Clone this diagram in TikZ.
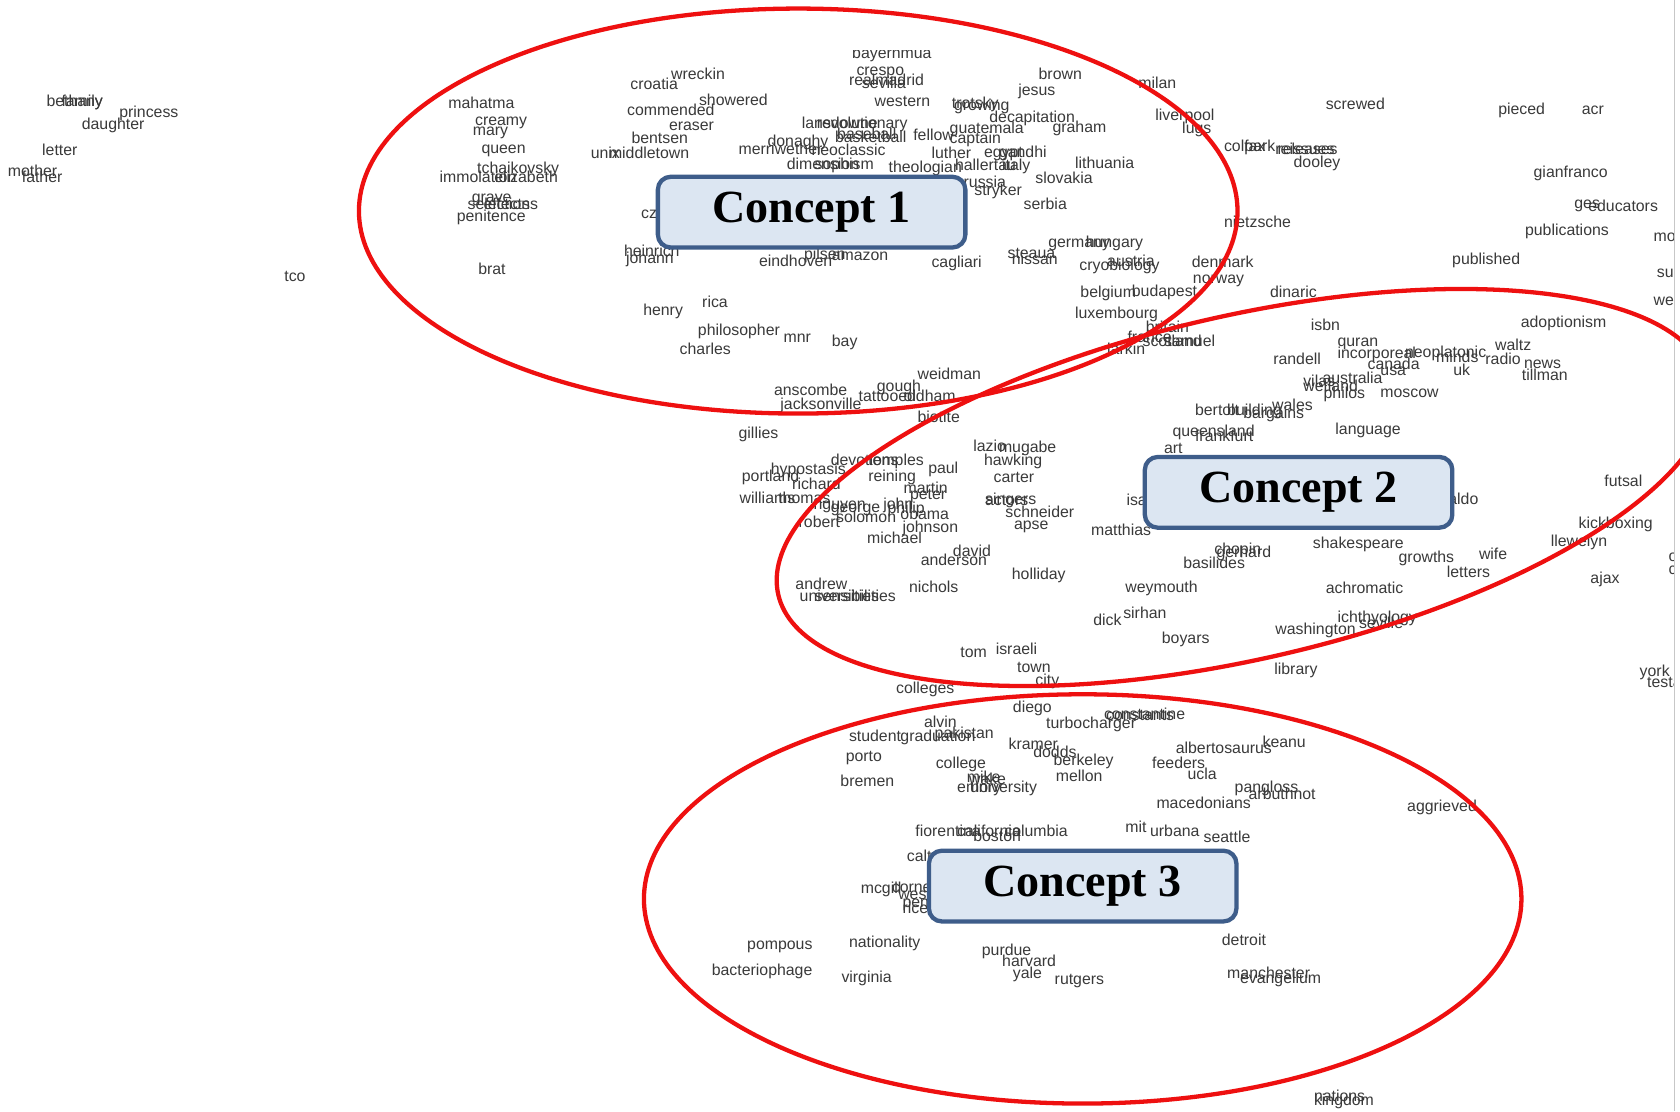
\documentclass[tikz,border=0pt]{standalone}
\usepackage{fontspec}
\setmainfont{Liberation Sans}
\newfontfamily\conceptfont{Liberation Serif}
\definecolor{wordc}{RGB}{58,58,58}
\definecolor{ringred}{RGB}{238,16,16}
\definecolor{boxfill}{RGB}{220,230,242}
\definecolor{boxline}{RGB}{62,93,138}
\tikzset{
  wd/.style={anchor=base west, inner sep=0pt, yshift=-1.8pt, text=wordc, font=\fontsize{7.4}{8}\selectfont},
  ring/.style={draw=ringred, line width=2pt},
  conceptbox/.style={draw=boxline, line width=2pt, fill=boxfill, rounded corners=6pt,
    minimum width=143.5pt, minimum height=33pt, inner sep=0pt,
    font=\conceptfont\bfseries\fontsize{21.5}{24}\selectfont}
}
\begin{document}
\begin{tikzpicture}[x=0.5pt,y=-0.5pt]
\useasboundingbox (0,0) rectangle (1568,1037);
\fill[white] (0,0) rectangle (1568,1037);
\begin{scope}
\clip (0,47.5) rectangle (1562,1037);
\foreach \x/\y/\t [count=\i] in {
43/96/bethany, 57/96/family, 111/106/princess, 76/117/daughter, 39/142/letter, 7/161/mother, 20/167/father, 265/259/tco,
418/98/mahatma, 443/114/creamy, 441/123/mary, 449/140/queen, 445/158/tchaikovsky, 410/167/immolation, 461/167/elizabeth,
440/185/grave, 436/192/selections, 451/192/effects, 426/203/penitence, 446/253/brat,
588/80/croatia, 626/71/wreckin, 652/95/showered, 585/104/commended, 624/118/eraser, 589/130/bentsen, 551/144/unix, 568/144/middletown,
598/200/czech, 582/236/heinrich, 584/242/johann, 708/245/eindhoven, 750/239/pilsen, 776/240/amazon, 869/246/cagliari,
940/238/steaua, 944/243/nissan, 978/227/germany, 1013/227/hungary, 1007/249/cryobiology, 1033/245/austria,
1112/246/denmark, 1113/261/norway, 1008/274/belgium, 1056/273/budapest, 1185/274/dinaric, 1003/294/luxembourg,
1069/307/britain, 1052/316/france, 1066/320/scotland, 1086/320/samuel, 1033/327/larkin,
1142/209/nietzsche, 1142/138/colfax, 1161/138/park, 1190/141/reissues, 1192/141/releases, 1207/153/dooley, 1237/99/screwed,
1062/79/milan, 1078/109/liverpool, 1103/121/lugs, 969/71/brown, 950/86/jesus,
795/51/bayernmua, 799/67/crespo, 792/76/realmadrid, 804/79/sevilla, 816/96/western, 888/98/trotsky, 890/100/growing,
923/111/decapitation, 982/120/graham, 748/116/lansdowne, 762/116/revolutionary, 779/129/basketball, 781/127/baseball,
852/128/fellow, 886/121/guatemala, 886/130/captain, 716/133/donaghy, 689/141/merriwether, 757/142/neoclassic,
869/144/luther, 918/143/egypt, 932/143/gandhi, 734/155/dimension, 760/155/sophism, 829/157/theologian,
891/156/hallertau, 935/156/italy, 899/171/russia, 909/179/stryker, 966/168/slovakia, 955/192/serbia, 1003/154/lithuania,
655/283/rica, 600/291/henry, 651/310/philosopher, 731/316/mnr, 776/320/bay, 634/327/charles,
856/351/weidman, 722/366/anscombe, 728/379/jacksonville, 818/362/gough, 801/371/tattooed, 843/371/oldham, 856/391/biotite, 689/406/gillies,
1223/305/isbn, 1248/320/quran, 1248/331/incorporeal, 1311/330/neoplatonic, 1340/335/minds, 1276/341/canada, 1288/347/usa,
1356/347/uk, 1395/324/waltz, 1386/337/radio, 1188/337/randell, 1234/354/australia, 1216/357/vilas, 1216/362/wetland,
1235/368/philos, 1288/367/moscow, 1115/384/bertolt, 1145/384/building, 1187/380/wales, 1160/387/bargains,
1094/404/queensland, 1115/408/frankfurt, 1086/420/art, 1246/402/language,
1398/103/pieced, 1476/103/acr, 1431/162/gianfranco, 1469/191/ges, 1482/194/educators, 1423/216/publications,
1543/222/month, 1546/255/summer, 1543/282/week, 1355/243/published, 1419/302/adoptionism, 1422/340/news, 1420/352/tillman,
908/418/lazio, 932/419/mugabe, 918/431/hawking, 719/439/hypostasis, 775/431/devotions, 810/431/temples, 866/438/paul,
692/446/portland, 739/453/richard, 810/446/reining, 927/447/carter, 843/457/martin, 849/463/peter,
690/466/williams, 726/466/thomas, 759/472/nguyen, 775/475/george, 824/472/john, 828/476/philip, 780/484/solomon, 840/481/obama,
745/489/robert, 842/493/johnson, 809/504/michael, 889/516/david, 859/524/anderson, 944/537/holliday,
742/547/andrew, 746/558/universities, 760/558/sensibilities, 848/549/nichols, 919/467/singers, 919/468/actors,
938/479/schneider, 946/491/apse, 1051/468/isaac, 1018/496/matthias,
1497/450/futsal, 1330/467/ronaldo, 1473/490/kickboxing, 1447/506/llewelyn, 1557/520/olympic, 1557/533/cricket, 1484/541/ajax,
1225/508/shakespeare, 1305/521/growths, 1380/519/wife, 1350/535/letters, 1133/514/chopin, 1135/517/gerhard, 1104/527/basilides,
1050/549/weymouth, 1237/550/achromatic, 1020/580/dick, 1048/574/sirhan, 1084/597/boyars, 1248/577/ichthyology, 1268/583/seville,
1190/589/washington, 1189/626/library, 1530/628/york, 1537/638/testament,
896/610/tom, 929/607/israeli, 949/624/town, 966/636/city, 836/644/colleges, 945/661/diego, 976/676/turbocharger,
1030/668/constantine, 1032/669/constants, 862/675/alvin, 792/688/student, 840/688/graduation, 872/686/pakistan,
789/707/porto, 941/696/kramer, 964/703/dodds, 983/711/berkeley, 873/714/college, 902/727/mike, 904/729/wake,
893/736/emory, 905/736/university, 985/726/mellon, 784/730/bremen,
1097/700/albertosaurus, 1178/694/keanu, 1075/714/feeders, 1108/724/ucla, 1152/736/pangloss, 1165/743/arbuthnot,
1079/751/macedonians, 1313/754/aggrieved, 1050/773/mit, 1073/777/urbana, 1123/783/seattle,
854/777/fiorentina, 893/777/california, 908/782/boston, 937/777/columbia, 846/800/caltech,
803/830/mcgill, 832/829/cornell, 838/836/wesleyan, 842/843/penn, 842/849/rice,
697/883/pompous, 664/907/bacteriophage, 792/881/nationality, 785/913/virginia,
916/888/purdue, 935/898/harvard, 945/910/yale, 984/915/rutgers,
1140/879/detroit, 1145/910/manchester, 1157/914/evangelium, 1226/1024/nations, 1226/1028/kingdom}
  \node[wd] (w\i) at (\x,\y) {\t};
\end{scope}
\draw[black!22, line width=0.6pt] (1563,0) -- (1563,1037);
\draw[ring] (745,197) ellipse [x radius=205pt, y radius=94.5pt];
\draw[ring, shift={(1160,455)}, rotate=13] (0,0) ellipse [x radius=222.5pt, y radius=80pt];
\draw[ring] (1010.5,839) ellipse [x radius=204.75pt, y radius=95.5pt];
\node[conceptbox] (c1) at (757.5,198) {Concept 1};
\node[conceptbox] (c2) at (1212,459.5) {Concept 2};
\node[conceptbox] (c3) at (1010.5,827) {Concept 3};
\end{tikzpicture}
\end{document}
